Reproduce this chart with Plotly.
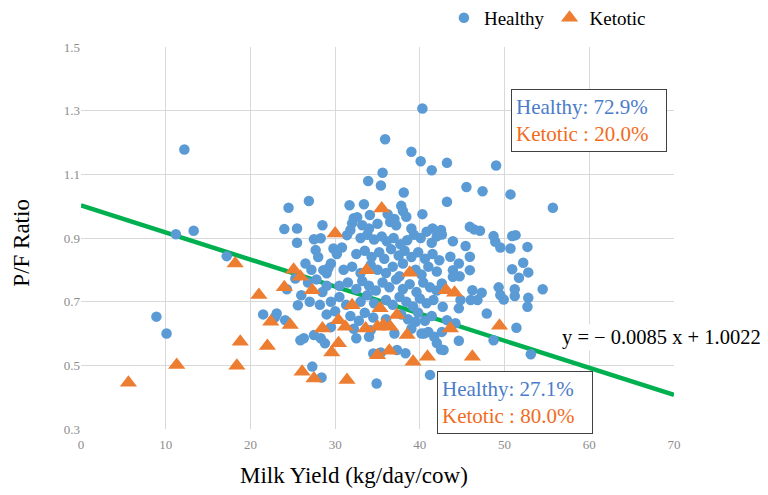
import plotly.graph_objects as go

# ---------------- data ----------------
healthy_x = [8.9, 10.1, 11.2, 12.2, 13.3, 17.2,
             21.5, 22.9, 23.1, 24.1, 24.3, 25.3, 25.6, 25.9,
             24.0, 24.5, 25.5, 25.5, 26.9, 28.5, 27.5, 28.3, 27.7, 29.8,
             31.4, 31.8, 32.0, 32.2, 32.6, 31.7, 33.4, 33.9, 35.4, 35.6, 35.9, 39.0, 40.1, 40.3,
             41.4, 43.2, 38.1, 45.5, 47.4, 50.7, 43.2, 49.0, 55.7,
             37.8, 38.0, 40.3, 34.1, 36.2, 38.4,
             45.9, 46.4, 47.1, 42.6, 43.9, 45.4, 48.7, 48.9, 49.5, 50.9, 51.3, 50.7, 52.7,
             43.6, 45.9, 44.6, 45.9, 43.9, 43.9, 44.7, 52.2, 50.9, 52.8, 51.7, 42.6, 46.2, 47.3,
             49.3, 49.5, 49.9, 51.2, 51.2, 54.5, 52.8, 52.7, 46.0, 46.8, 44.8, 44.6, 42.7, 47.9,
             51.4, 43.2, 44.2, 42.6, 42.8, 44.6, 48.7, 53.1,
             26.3, 27.5, 28.3, 28.8, 32.5, 34.0, 34.5, 35.4, 37.3, 38.3, 39.5, 40.5, 41.0, 41.7,
             42.0, 42.5, 27.3, 28.4, 34.9, 41.2, 28.6, 29.0, 29.2,
             33.2, 34.0, 35.0, 36.5, 37.2, 37.0, 39.0, 40.8, 41.5, 42.5,
             33.0, 33.8, 34.6, 35.5, 36.1, 36.9, 37.7, 38.5, 39.3, 40.1, 41.4, 42.0,
             32.5, 33.5, 34.3, 35.2, 35.8, 36.6, 37.5, 38.2, 39.0, 39.8, 40.6, 41.5, 42.3,
             31.0, 32.0, 33.0, 34.2, 35.0, 36.0, 36.8, 37.6, 38.0, 39.5, 40.2, 41.0, 42.0,
             30.5, 31.5, 32.5, 33.2, 34.0, 34.8, 35.6, 36.4, 37.2, 38.0, 38.8, 39.6, 40.4, 41.2, 42.0,
             29.5, 30.5, 31.3, 33.0, 33.8, 34.6, 36.0, 36.8, 37.6, 38.4, 39.2, 40.0, 40.8, 41.6,
             29.0, 30.0, 31.8, 32.8, 33.5, 34.5, 36.0, 37.8, 38.6, 39.8, 40.6, 41.4,
             29.5, 32.2, 34.2, 37.0, 39.0, 40.2,
             26.5, 27.2, 28.0, 26.8, 27.8, 28.5, 26.0, 27.0, 28.2, 29.0, 29.5, 30.2, 30.8]
healthy_y = [0.653, 0.600, 0.912, 1.178, 0.923, 0.843,
             0.660, 0.651, 0.663, 0.642, 0.739, 0.773, 0.689, 0.579,
             0.928, 0.995, 0.930, 0.885, 1.016, 0.940, 0.896, 0.899, 0.862, 0.867,
             0.909, 0.925, 0.946, 0.962, 0.965, 1.003, 1.006, 1.079, 1.065, 1.105, 1.210, 1.171, 1.141, 1.307,
             1.113, 1.136, 1.043, 1.060, 1.047, 1.037, 1.014, 1.128, 0.995,
             1.001, 0.985, 0.975, 0.972, 0.975, 0.967,
             0.935, 0.927, 0.923, 0.911, 0.890, 0.875, 0.906, 0.888, 0.870, 0.906, 0.909, 0.867, 0.872,
             0.841, 0.841, 0.820, 0.799, 0.799, 0.778, 0.780, 0.822, 0.802, 0.792, 0.775, 0.757, 0.736, 0.728,
             0.745, 0.721, 0.707, 0.739, 0.718, 0.739, 0.712, 0.684, 0.705, 0.705, 0.705, 0.679, 0.684, 0.663,
             0.618, 0.642, 0.632, 0.605, 0.548, 0.577, 0.579, 0.535,
             0.585, 0.595, 0.585, 0.569, 0.585, 0.590, 0.537, 0.540, 0.548, 0.538, 0.637, 0.600, 0.605, 0.590,
             0.570, 0.550, 0.496, 0.462, 0.443, 0.470, 0.799, 0.789, 0.805,
             0.940, 0.930, 0.945, 0.950, 0.940, 0.960, 0.930, 0.920, 0.930, 0.925,
             0.900, 0.910, 0.895, 0.905, 0.890, 0.900, 0.880, 0.893, 0.910, 0.900, 0.885, 0.905,
             0.850, 0.860, 0.840, 0.855, 0.835, 0.865, 0.845, 0.860, 0.840, 0.855, 0.835, 0.850, 0.830,
             0.800, 0.810, 0.790, 0.815, 0.800, 0.790, 0.810, 0.780, 0.820, 0.800, 0.785, 0.810, 0.795,
             0.750, 0.760, 0.740, 0.765, 0.750, 0.735, 0.760, 0.745, 0.770, 0.740, 0.755, 0.730, 0.760, 0.745, 0.735,
             0.700, 0.715, 0.690, 0.700, 0.720, 0.695, 0.705, 0.690, 0.715, 0.700, 0.685, 0.710, 0.695, 0.705,
             0.660, 0.670, 0.655, 0.640, 0.665, 0.650, 0.645, 0.660, 0.645, 0.665, 0.640, 0.655,
             0.620, 0.615, 0.610, 0.600, 0.615, 0.600,
             0.820, 0.800, 0.840, 0.760, 0.770, 0.730, 0.720, 0.700, 0.690, 0.750, 0.820, 0.850, 0.870]

ketotic_x = [5.6, 11.3, 18.2, 18.4, 18.8, 21.0, 22.0, 22.4, 24.0, 24.7, 25.1, 25.9,
             27.3, 26.1, 27.5, 28.5, 29.6, 30.0, 30.4, 30.4, 31.2, 31.4, 32.0, 33.6,
             33.7, 35.0, 35.7, 36.5, 35.3, 35.5, 35.0, 36.4, 37.3, 38.5, 38.8, 39.2,
             40.9, 43.1, 44.1, 43.6, 46.2, 49.4]
ketotic_y = [0.445, 0.501, 0.820, 0.499, 0.574, 0.721, 0.561, 0.637, 0.745, 0.627, 0.800, 0.778,
             0.736, 0.480, 0.459, 0.616, 0.540, 0.914, 0.642, 0.569, 0.621, 0.454, 0.689, 0.616,
             0.799, 0.621, 0.627, 0.621, 0.679, 0.993, 0.532, 0.546, 0.658, 0.595, 0.791, 0.511,
             0.527, 0.736, 0.728, 0.616, 0.527, 0.624]

trend_slope = -0.0085
trend_intercept = 1.0022
trend_x = [0, 70]

x_ticks = [0, 10, 20, 30, 40, 50, 60, 70]
y_ticks = [0.3, 0.5, 0.7, 0.9, 1.1, 1.3, 1.5]

# ---------------- figure ----------------
BLUE = "#5B9BD5"
ORANGE = "#ED7D31"
GREEN = "#00B050"
SERIF = "Liberation Serif, Times New Roman, serif"

fig = go.Figure()
fig.add_trace(go.Scatter(
    x=trend_x, y=[trend_intercept + trend_slope * v for v in trend_x],
    mode="lines", line=dict(color=GREEN, width=4.5), showlegend=False, hoverinfo="skip"))
fig.add_trace(go.Scatter(
    x=healthy_x, y=healthy_y, mode="markers", name="Healthy",
    marker=dict(symbol="circle", size=10.5, color=BLUE, line=dict(width=0))))
fig.add_trace(go.Scatter(
    x=ketotic_x, y=ketotic_y, mode="markers", name="Ketotic",
    marker=dict(symbol="triangle-up", size=15, color=ORANGE, line=dict(width=0))))

box_style = dict(xref="x", yref="y", showarrow=False, align="left",
                 bordercolor="#404040", borderwidth=1, borderpad=4, bgcolor="white",
                 width=146, height=53, font=dict(family=SERIF, size=21))

fig.update_layout(
    width=760, height=487,
    margin=dict(l=73, r=94, t=39, b=66, autoexpand=False),
    paper_bgcolor="white", plot_bgcolor="white",
    font=dict(family=SERIF, color="#000"),
    legend=dict(orientation="h", x=0.612, xanchor="left", y=1.076, yanchor="middle",
                font=dict(family=SERIF, size=19, color="#000"),
                itemwidth=30, bgcolor="rgba(0,0,0,0)"),
    xaxis=dict(range=[0, 70], tickvals=x_ticks, showgrid=True, gridcolor="#d9d9d9",
               gridwidth=1, zeroline=False, showline=False, ticks="", ticklabelstandoff=6,
               tickfont=dict(family=SERIF, size=13, color="#8c8c8c")),
    yaxis=dict(range=[0.3, 1.5], tickvals=y_ticks, tickformat=".1f", showgrid=True,
               gridcolor="#d9d9d9", gridwidth=1, zeroline=False, showline=False, ticks="",
               tickfont=dict(family=SERIF, size=13, color="#8c8c8c")),
    annotations=[
        dict(text="Milk Yield (kg/day/cow)", xref="paper", yref="paper", x=0.46, y=-0.123,
             xanchor="center", yanchor="middle", showarrow=False,
             font=dict(family=SERIF, size=23, color="#000")),
        dict(text="P/F Ratio", xref="paper", yref="paper", x=-0.1, y=0.487, textangle=-90,
             xanchor="center", yanchor="middle", showarrow=False,
             font=dict(family=SERIF, size=23, color="#000")),
        dict(text="<span style='color:#4A7CC9'>Healthy: 72.9%</span><br>"
                  "<span style='color:#F26B1D'>Ketotic : 20.0%</span>",
             x=59.95, y=1.269, **box_style),
        dict(text="<span style='color:#4A7CC9'>Healthy: 27.1%</span><br>"
                  "<span style='color:#F26B1D'>Ketotic : 80.0%</span>",
             x=51.2, y=0.383, **box_style),
        dict(text="y = \u2212 0.0085 x + 1.0022", xref="x", yref="y", x=56.6, y=0.586,
             xanchor="left", showarrow=False, bgcolor="white",
             font=dict(family=SERIF, size=20.5, color="#000")),
    ],
)

fig.write_html("out.html")
